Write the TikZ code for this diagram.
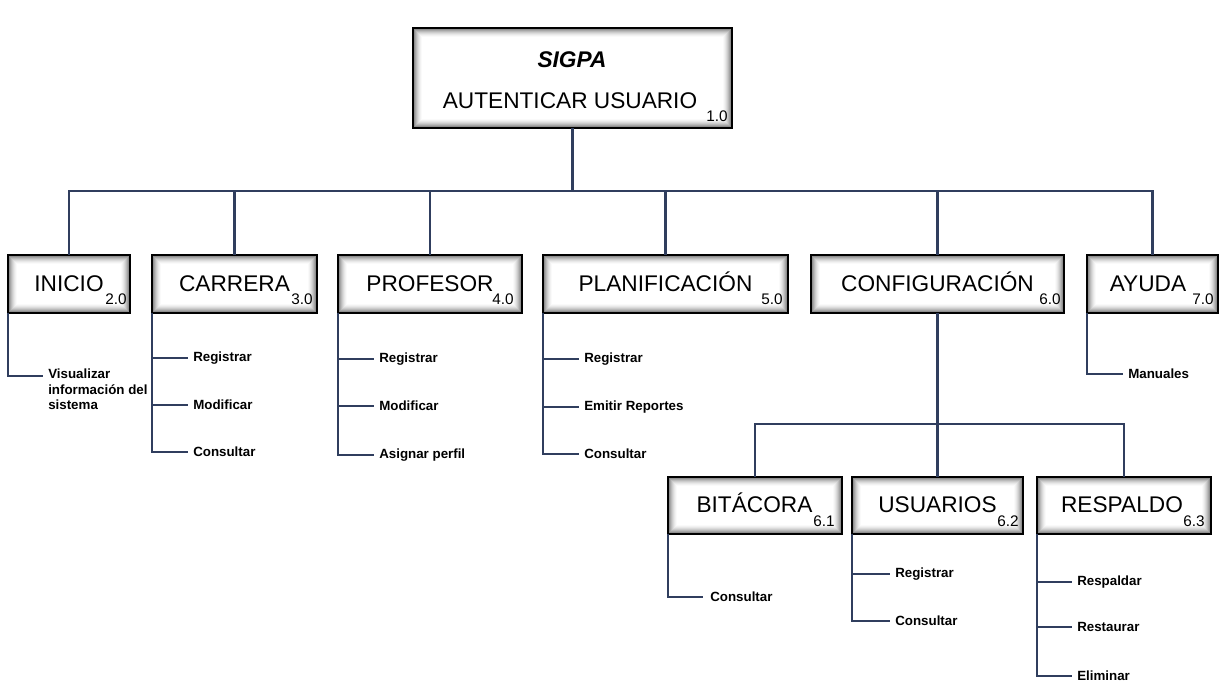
\documentclass[tikz,border=0pt]{standalone}
\usepackage{fontspec}
\setmainfont{Liberation Sans}
\usetikzlibrary{calc}
\definecolor{linec}{RGB}{48,62,94}
\begin{document}
\begin{tikzpicture}[x=0.75pt,y=-0.75pt,
  box/.style={draw=black, line width=1.4pt, fill=white, inner sep=0pt, outer sep=0pt,
    path picture={
      \foreach \i/\c in {0/55,1/44,2/35,3/27,4/20,5/14,6/9,7/5,8/2}{
        \draw[black!\c, line width=0.8pt]
          ($(path picture bounding box.north west)+(\i+0.5,\i+0.5)$) rectangle
          ($(path picture bounding box.south east)+(-\i-0.5,-\i-0.5)$);
      }
    }},
  cbox/.style={box, minimum height=58*0.75pt},
  sbox/.style={box, minimum height=57*0.75pt},
  ttl/.style={font=\fontsize{17}{20}\selectfont, anchor=base, inner sep=0pt},
  num/.style={font=\fontsize{11.5}{13}\selectfont, anchor=base east, inner sep=0pt},
  item/.style={font=\fontsize{10}{11.6}\selectfont\bfseries, anchor=mid west, inner xsep=3.75pt, inner ysep=0pt},
  conn/.style={draw=linec, line width=1.6pt}]

\useasboundingbox (0,0) rectangle (1228,691);

% ---- boxes ----
\node[box, minimum width=319*0.75pt, minimum height=100*0.75pt] (top) at (572.5,78) {};
\node[cbox, minimum width=122*0.75pt] (b2) at (69,284) {};
\node[cbox, minimum width=165*0.75pt] (b3) at (234.5,284) {};
\node[cbox, minimum width=184*0.75pt] (b4) at (430,284) {};
\node[cbox, minimum width=245*0.75pt] (b5) at (665.5,284) {};
\node[cbox, minimum width=253*0.75pt] (b6) at (937.5,284) {};
\node[cbox, minimum width=131*0.75pt] (b7) at (1152.5,284) {};
\node[sbox, minimum width=174*0.75pt] (b61) at (755,505.5) {};
\node[sbox, minimum width=171*0.75pt] (b62) at (937.5,505.5) {};
\node[sbox, minimum width=174*0.75pt] (b63) at (1124,505.5) {};

% ---- titles ----
\node[ttl, font=\fontsize{17}{20}\selectfont\bfseries\itshape] (tsig) at (572,68) {SIGPA};
\node[ttl] (ttop) at (570,109) {AUTENTICAR USUARIO};
\node[num] (ntop) at (728,122) {1.0};
\node[ttl] (t2) at (69,292) {INICIO};
\node[num] (n2) at (127,305) {2.0};
\node[ttl] (t3) at (234.5,292) {CARRERA};
\node[num] (n3) at (313,305) {3.0};
\node[ttl] (t4) at (430,292) {PROFESOR};
\node[num] (n4) at (514,305) {4.0};
\node[ttl] (t5) at (665.5,292) {PLANIFICACIÓN};
\node[num] (n5) at (783,305) {5.0};
\node[ttl] (t6) at (937.5,292) {CONFIGURACIÓN};
\node[num] (n6) at (1061,305) {6.0};
\node[ttl] (t7) at (1148,292) {AYUDA};
\node[num] (n7) at (1214,305) {7.0};
\node[ttl] (t61) at (754.5,512) {BITÁCORA};
\node[num] (n61) at (835,526) {6.1};
\node[ttl] (t62) at (937.5,512) {USUARIOS};
\node[num] (n62) at (1019,526) {6.2};
\node[ttl] (t63) at (1122,512) {RESPALDO};
\node[num] (n63) at (1205,526) {6.3};

% ---- tree connectors ----
\coordinate (bus) at (572.5,191);
\draw[conn] (top.south) -- (bus);
\foreach \b in {b2,b3,b4,b5,b6,b7}{\draw[conn] (\b.north) |- (bus);}
\coordinate (sbus) at (937.5,424);
\draw[conn] (b6.south) -- (sbus);
\foreach \b in {b61,b62,b63}{\draw[conn] (\b.north) |- (sbus);}

% ---- leaf items ----
\coordinate (v2) at (43,376);
\node[font=\fontsize{10}{11.6}\selectfont\bfseries, align=left, anchor=north west, inner sep=0pt] (i21) at (48,369) {Visualizar\\información del\\sistema};
\draw[conn] (b2.south west) |- (v2);

\node[item] (i31) at (188,358) {Registrar};
\node[item] (i32) at (188,406) {Modificar};
\node[item] (i33) at (188,453) {Consultar};
\foreach \n in {i31,i32,i33}{\draw[conn] (b3.south west) |- (\n.west);}

\node[item] (i41) at (374,359) {Registrar};
\node[item] (i42) at (374,407) {Modificar};
\node[item] (i43) at (374,455) {Asignar perfil};
\foreach \n in {i41,i42,i43}{\draw[conn] (b4.south west) |- (\n.west);}

\node[item] (i51) at (579,359) {Registrar};
\node[item] (i52) at (579,407) {Emitir Reportes};
\node[item] (i53) at (579,455) {Consultar};
\foreach \n in {i51,i52,i53}{\draw[conn] (b5.south west) |- (\n.west);}

\node[item] (i71) at (1123,375) {Manuales};
\draw[conn] (b7.south west) |- (i71.west);

\node[item, inner xsep=5.25pt] (i611) at (703,598) {Consultar};
\draw[conn] (b61.south west) |- (i611.west);

\node[item] (i621) at (890,574) {Registrar};
\node[item] (i622) at (890,622) {Consultar};
\foreach \n in {i621,i622}{\draw[conn] (b62.south west) |- (\n.west);}

\node[item] (i631) at (1072,582) {Respaldar};
\node[item] (i632) at (1072,628) {Restaurar};
\node[item] (i633) at (1072,677) {Eliminar};
\foreach \n in {i631,i632,i633}{\draw[conn] (b63.south west) |- (\n.west);}
\end{tikzpicture}
\end{document}
